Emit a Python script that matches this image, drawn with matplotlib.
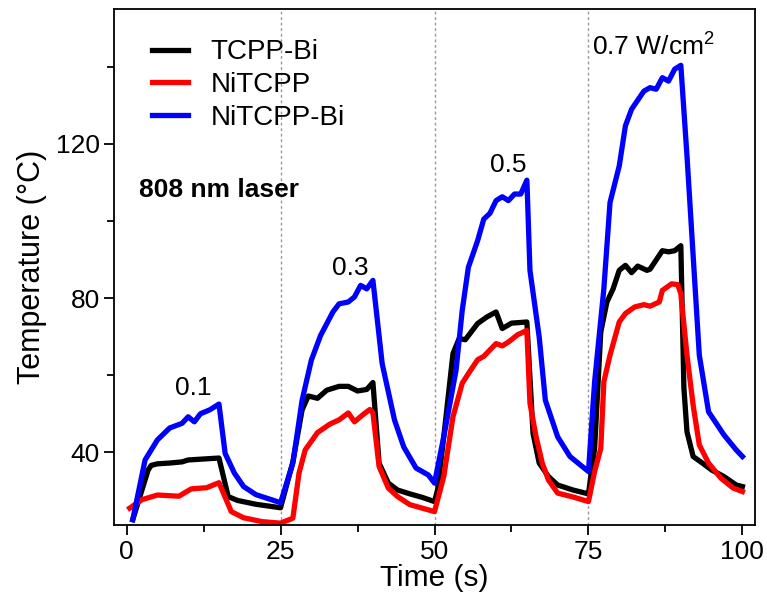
import matplotlib
matplotlib.use('Agg')
import matplotlib.pyplot as plt
from matplotlib.ticker import MultipleLocator

# data (time in s, temperature in C)
t_tcpp_bi = [1, 3.5, 4, 5, 7, 9, 10, 12, 15, 16.5, 18, 21, 25,
             27, 28.5, 29.5, 31, 32.5, 34.5, 36, 37.5, 39, 40,
             41, 42.5, 44, 46, 48, 50,
             50.5, 51.5, 53, 54, 55, 57, 58.5, 60, 61, 62.5, 65,
             66, 67, 68.5, 70, 72.5, 75,
             76, 77, 78, 79, 80, 81, 82, 83, 84.5, 85, 87, 88, 89, 90,
             90.5, 91, 92, 93.5, 95, 97, 99, 100]
T_tcpp_bi = [22.5, 35.4, 36.6, 37, 37.2, 37.5, 38, 38.2, 38.5, 28.5, 27.5, 26.5, 25.6,
             37.5, 51, 54.6, 54, 56.1, 57.1, 57.1, 55.9, 56.3, 58.1,
             37.2, 32, 30.2, 29.2, 28.3, 27.2,
             30.2, 44, 65.6, 69.5, 69.2, 73.4, 75.1, 76.4, 72.1, 73.5, 73.8,
             44.9, 37.2, 33.7, 31.5, 30.2, 29.2,
             41, 71.2, 79, 82.4, 87.2, 88.5, 86.6, 88.3, 87.2, 87.5, 92.3, 92, 92.3, 93.6,
             56.6, 45.3, 38.9, 37.2, 35.4, 33.7, 31.5, 31.1]

t_nitcpp = [0.5, 2.5, 5, 8.5, 10.5, 13, 15, 17, 19, 22, 25,
            27, 28, 29, 31, 33, 34.5, 36, 37, 38.5, 39.5, 40,
            41, 42.5, 44, 46, 48, 50,
            51.5, 53, 54.5, 55.5, 57, 58, 60, 61, 62, 63.5, 65,
            65.5, 66.5, 67.5, 68.5, 70, 72.5, 75,
            76, 77, 77.5, 78.5, 80, 81, 82.5, 84, 85, 86.5, 87, 88.5, 89.5, 90,
            91, 92, 93, 94.5, 96.5, 98.5, 100]
T_nitcpp = [25.5, 27.7, 28.9, 28.6, 30.5, 30.8, 32.1, 24.6, 23, 22, 21.6,
            22.9, 34.6, 40.6, 45.1, 47.3, 48.4, 50.2, 47.9, 49.9, 51.1, 50.2,
            36.3, 30.7, 28.5, 26.4, 25.5, 24.6,
            33.7, 49.2, 57.9, 60.4, 64, 64.9, 68.2, 67.6, 68.6, 70.5, 71.6,
            52.7, 44, 37.2, 32.8, 29.4, 28.4, 27.2,
            35, 41, 58.3, 65.2, 73.8, 76, 77.7, 78.3, 77.9, 79, 82, 83.7, 83.5, 81.1,
            65.2, 52.2, 41.9, 37.2, 33.3, 30.7, 29.8]

t_nitcpp_bi = [1, 3, 4, 5, 7, 9, 10, 11, 12, 13.5, 15, 16, 17.5, 19, 21, 23.5, 25,
               27, 28.5, 30, 31.5, 33.5, 34.5, 36, 37, 38, 39, 40,
               41.5, 43.5, 45, 47, 49, 50,
               51.5, 53.5, 54.5, 55.5, 57, 58, 59, 60, 61, 62, 63, 64, 65,
               65.5, 67, 68, 70, 72, 75,
               76, 77.5, 78.5, 80, 81, 82, 84, 85, 86, 87, 88, 89, 90,
               91, 92, 93, 94.5, 97, 99, 100]
T_nitcpp_bi = [22.5, 38, 40.6, 43.2, 46.3, 47.5, 49.2, 47.9, 50, 51, 52.5, 39.7, 34.6, 31.1, 29, 27.7, 26.9,
               37.2, 53.5, 63.9, 70.3, 76.4, 78.5, 79, 80.3, 83.3, 82.4, 84.6,
               63, 48.4, 41.4, 35.9, 34.1, 32,
               44, 61.3, 76.8, 88, 94.9, 100.5, 102, 105.3, 106.3, 105.3, 107, 107, 110.6,
               87.2, 69.9, 53.5, 44, 38.9, 35,
               58.3, 82.4, 104.8, 114.3, 124.7, 129, 133.7, 134.6, 134.2, 137.2, 136.3, 139.4, 140.4,
               116.9, 91, 65.2, 50.5, 44.5, 40.6, 38.9]

power_labels = ['0.1', '0.3', '0.5', '0.7 W/cm$^2$']
power_pos = [(10.8, 54.8), (36.3, 85.9), (61.9, 112.6), (75.5, 143.2)]
switch_times = [25, 50, 75]

plt.rcParams['font.family'] = ['Liberation Sans', 'DejaVu Sans']
plt.rcParams['mathtext.fontset'] = 'custom'
plt.rcParams['mathtext.rm'] = 'Liberation Sans'

fig = plt.figure(figsize=(7.67, 6.04), dpi=100)
ax = fig.add_axes([0.149, 0.13, 0.835, 0.855])

for x in switch_times:
    ax.axvline(x, color='#999999', linestyle=(0, (2, 2)), linewidth=1, zorder=0)

ax.plot(t_tcpp_bi, T_tcpp_bi, color='black', lw=3.8, label='TCPP-Bi')
ax.plot(t_nitcpp, T_nitcpp, color='#ff0000', lw=3.8, label='NiTCPP')
ax.plot(t_nitcpp_bi, T_nitcpp_bi, color='#0000ff', lw=3.8, label='NiTCPP-Bi')

for lab, (x, y) in zip(power_labels, power_pos):
    ha = 'left' if 'W' in lab else 'center'
    ax.text(x, y, lab, fontsize=19, ha=ha, va='baseline')

ax.text(0.038, 0.637, '808 nm laser', transform=ax.transAxes, fontsize=19,
        fontweight='bold', va='baseline')

ax.set_xlim(-2, 102)
ax.set_ylim(21, 155)
ax.xaxis.set_major_locator(MultipleLocator(25))
ax.xaxis.set_minor_locator(MultipleLocator(12.5))
ax.yaxis.set_major_locator(MultipleLocator(40))
ax.yaxis.set_minor_locator(MultipleLocator(20))
ax.tick_params(which='major', direction='out', length=7, width=1.3, labelsize=19)
ax.tick_params(which='minor', direction='out', length=5, width=1.3)
for s in ax.spines.values():
    s.set_linewidth(1.3)

ax.set_xlabel('Time (s)', fontsize=21.5, labelpad=0)
ax.set_ylabel('Temperature (°C)', fontsize=22, labelpad=6)

ax.legend(loc='upper left', bbox_to_anchor=(0.02, 0.99), frameon=False, fontsize=20,
          handlelength=1.3, handletextpad=0.8, labelspacing=0.25)

plt.savefig('out.png', dpi=100)
